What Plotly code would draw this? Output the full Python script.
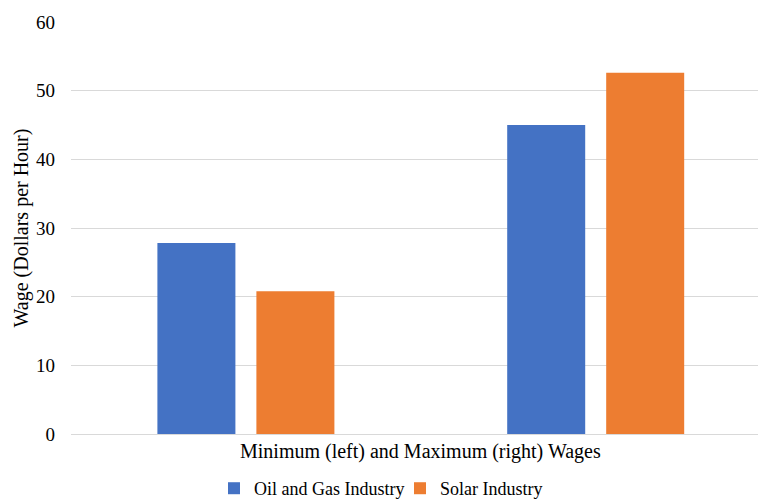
import plotly.graph_objects as go

# Hourly wage ranges by industry
categories = ["Minimum", "Maximum"]
oil_gas_wages = [27.8, 45.0]
solar_wages = [20.8, 52.6]
y_ticks = [0, 10, 20, 30, 40, 50, 60]

FONT = "Liberation Serif"
TEXT = "#000000"
BLUE = "#4472C4"
ORANGE = "#ED7D31"

fig = go.Figure()
fig.add_trace(go.Bar(
    x=categories, y=oil_gas_wages, name="Oil and Gas Industry",
    marker=dict(color=BLUE, line=dict(width=0)),
    width=0.223, offset=-0.253,
))
fig.add_trace(go.Bar(
    x=categories, y=solar_wages, name="Solar Industry",
    marker=dict(color=ORANGE, line=dict(width=0)),
    width=0.223, offset=0.030,
))

fig.update_layout(
    width=758, height=499,
    margin=dict(l=71, r=0, t=22, b=65, autoexpand=False),
    paper_bgcolor="white", plot_bgcolor="white",
    font=dict(family=FONT, color=TEXT, size=19),
    barmode="group",
    showlegend=True,
    legend=dict(
        orientation="h", xref="container", x=0.2823, xanchor="left",
        yref="container", y=0.021, yanchor="middle",
        font=dict(family=FONT, size=18, color=TEXT),
        itemwidth=30, traceorder="normal",
        entrywidth=141, entrywidthmode="pixels",
    ),
    xaxis=dict(
        range=[-0.5, 1.464], showticklabels=False, showgrid=False,
        zeroline=False, showline=False, ticks="",
    ),
    yaxis=dict(
        range=[0, 60], tickvals=y_ticks, showgrid=True, gridcolor="#D9D9D9",
        gridwidth=1, zeroline=True, zerolinecolor="#D9D9D9", zerolinewidth=1,
        showline=False, ticks="", ticklabelstandoff=15,
        tickfont=dict(family=FONT, size=19, color=TEXT),
        title=dict(text="Wage (Dollars per Hour)", standoff=2,
                   font=dict(family=FONT, size=20, color=TEXT)),
    ),
    annotations=[dict(
        text="Minimum (left) and Maximum (right) Wages",
        xref="paper", yref="paper", x=(420.5 - 71) / 687, y=-0.0415,
        xanchor="center", yanchor="middle", showarrow=False,
        font=dict(family=FONT, size=20, color=TEXT),
    )],
)

fig.write_html("out.html")
